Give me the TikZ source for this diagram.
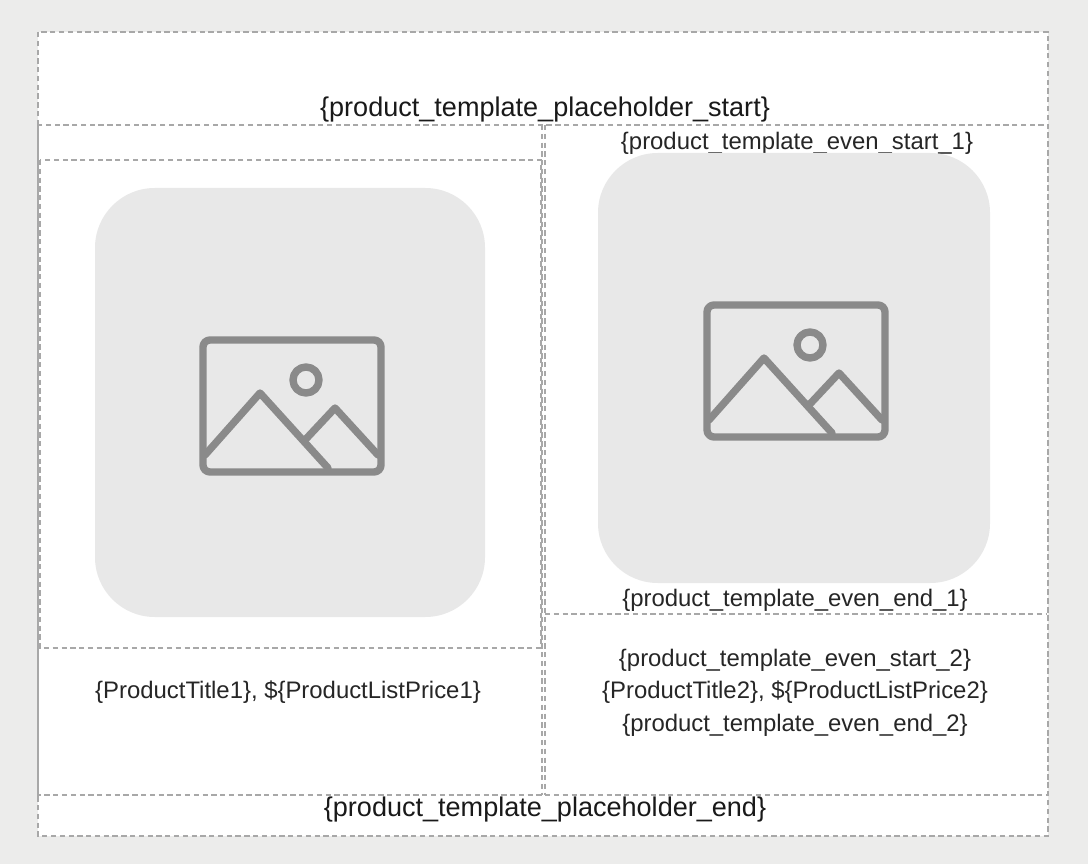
\documentclass[tikz,border=0pt]{standalone}
\usepackage{fontspec}
\setmainfont{Liberation Sans}
\usetikzlibrary{positioning}
\definecolor{bggray}{HTML}{ECECEB}
\definecolor{imgfill}{HTML}{E8E8E8}
\definecolor{icongray}{HTML}{8A8A8A}
\definecolor{dashgray}{HTML}{A8A8A8}
\tikzset{
  cellline/.style={draw=dashgray, densely dashed, line width=0.6pt},
  tag/.style={inner sep=1pt, font=\fontsize{13.6}{16}\selectfont, text=black!85},
  bigtag/.style={inner sep=1pt, font=\fontsize{15.4}{18}\selectfont, text=black!90},
  imgbox/.style={fill=imgfill, rounded corners=34pt},
  iconline/.style={draw=icongray, line width=4.2pt, line cap=round, line join=round}
}
\newcommand{\imageicon}[2]{%
  \begin{scope}[shift={(#1,#2)}]
    \draw[iconline, rounded corners=4pt] (0,0) rectangle (178,132);
    \draw[iconline] (103,40) circle (13);
    \draw[iconline] (2,115) -- (57,53) -- (125,128);
    \draw[iconline] (102,100) -- (132,68) -- (175,115);
  \end{scope}}
\begin{document}
\begin{tikzpicture}[x=0.02cm, y=-0.02cm]
\fill[bggray] (0,0) rectangle (1088,864);
\useasboundingbox (0,0) rectangle (1088,864);
% page
\fill[white] (38,32) rectangle (1048,836);
\draw[cellline] (38,32) rectangle (1048,836);
\node[bigtag] (start) at (545,110) {\{product\_template\_placeholder\_start\}};
% table
\draw[cellline] (38,125) rectangle (1048,795);
\draw[cellline] (542,125) -- (542,795);
\draw[cellline] (545,125) -- (545,795);
% left cell
\draw[cellline] (40,160) rectangle (541,648);
\fill[imgbox] (95,188) rectangle (485,617);
\imageicon{203}{340}
\node[tag] (title1) at (288,692) {\{ProductTitle1\}, \$\{ProductListPrice1\}};
% right cell
\node[tag] (evenstart1) at (797,143) {\{product\_template\_even\_start\_1\}};
\fill[imgbox] (598,153) rectangle (990,583);
\imageicon{707}{305}
\node[tag] (evenend1) at (795,600) {\{product\_template\_even\_end\_1\}};
\draw[cellline] (545,614) -- (1046,614);
\node[tag] (evenstart2) at (795,660) {\{product\_template\_even\_start\_2\}};
\node[tag] (title2) at (795,692) {\{ProductTitle2\}, \$\{ProductListPrice2\}};
\node[tag] (evenend2) at (795,725) {\{product\_template\_even\_end\_2\}};
\node[bigtag] (end) at (545,810) {\{product\_template\_placeholder\_end\}};
\end{tikzpicture}
\end{document}
